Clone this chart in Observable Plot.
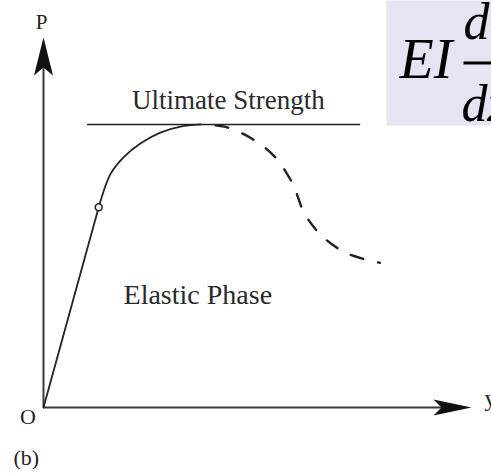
<!DOCTYPE html>
<html>
<head>
<meta charset="utf-8">
<script src="https://cdn.jsdelivr.net/npm/d3@7"></script>
<script src="https://cdn.jsdelivr.net/npm/@observablehq/plot@0.6"></script>
<style>
  html, body { margin: 0; padding: 0; background: #fff; }
  #chart { width: 491px; height: 476px; }
</style>
</head>
<body>
<div id="chart"></div>
<script>
// Load–deflection response of a member: linear elastic branch,
// hardening up to the ultimate strength, then softening (dashed).
// Deflection (horizontal) and load P (vertical) in relative units, 0–100.

const elasticX = [0, 12.9];
const elasticP = [0, 54.1];

const hardeningX = [12.9, 15.7, 18.7, 22.7, 27.3, 32.0, 36.7];
const hardeningP = [54.1, 63.2, 67.6, 71.4, 74.3, 75.9, 76.5];

const softeningX = [36.7, 42.3, 48.6, 54.0, 58.2, 61.0, 65.2, 71.0, 78.6];
const softeningP = [76.5, 75.9, 72.7, 67.8, 60.5, 52.4, 46.2, 41.6, 39.1];

// Ultimate strength level and the extent of its reference line
const ultimateP = 76.5;
const ultimateX = [10.3, 74.1];

// End of the elastic range (marked with a small circle)
const limitX = [12.9];
const limitP = [54.1];

const labels = ["Ultimate Strength", "Elastic Phase"];
const labelX = [20.7, 18.7];
const labelP = [80.8, 28.1];
const labelSize = [27, 28];

const axisNames = ["P", "y", "O", "(b)"];
const equation = ["EI", "d²y", "dx²"];

const toPoints = (xs, ps) => xs.map((x, i) => ({x, p: ps[i]}));

// Filled "stealth" arrowheads, tip at the symbol origin
const arrowUp = {
  draw(ctx) {
    ctx.moveTo(0, 0);
    ctx.lineTo(-9.5, 38);
    ctx.lineTo(0, 30);
    ctx.lineTo(9.5, 38);
    ctx.closePath();
  }
};
const arrowRight = {
  draw(ctx) {
    ctx.moveTo(0, 0);
    ctx.lineTo(-38, -8);
    ctx.lineTo(-30, 0);
    ctx.lineTo(-38, 8);
    ctx.closePath();
  }
};

const ink = "#222";
const axisInk = "#3a3a3a";
const serif = "Liberation Serif, Times New Roman, serif";

const chart = Plot.plot({
  width: 491,
  height: 476,
  margin: 0,
  style: {fontFamily: serif, background: "#fff", color: ink},
  x: {domain: [0, 100], range: [43, 471], axis: null},
  y: {domain: [0, 100], range: [407, 37], axis: null},
  marks: [
    // axes
    Plot.ruleX([0], {y1: 0, y2: 95, stroke: axisInk, strokeWidth: 2}),
    Plot.ruleY([0], {x1: 0, x2: 95, stroke: axisInk, strokeWidth: 2}),
    Plot.dot([{x: 0, p: 100}], {x: "x", y: "p", symbol: arrowUp, fill: "#111", stroke: null}),
    Plot.dot([{x: 100, p: 0}], {x: "x", y: "p", symbol: arrowRight, fill: "#111", stroke: null}),

    // ultimate strength level
    Plot.ruleY([ultimateP], {x1: ultimateX[0], x2: ultimateX[1], stroke: ink, strokeWidth: 1.6}),

    // response curve
    Plot.line(toPoints(elasticX, elasticP), {x: "x", y: "p", stroke: ink, strokeWidth: 1.8}),
    Plot.line(toPoints(hardeningX, hardeningP), {x: "x", y: "p", stroke: ink, strokeWidth: 1.8, curve: "catmull-rom"}),
    Plot.line(toPoints(softeningX, softeningP), {
      x: "x", y: "p", stroke: ink, strokeWidth: 2.4, curve: "catmull-rom",
      strokeDasharray: "13,15", strokeDashoffset: 13
    }),
    Plot.dot(toPoints(limitX, limitP), {x: "x", y: "p", r: 3.5, stroke: ink, strokeWidth: 1.5, fill: "#eee"}),

    // annotations
    Plot.text(labels, {
      x: (d, i) => labelX[i], y: (d, i) => labelP[i], text: d => d,
      fontSize: (d, i) => labelSize[i],
      textAnchor: "start", lineAnchor: "bottom", fill: "#2a2a2a"
    }),

    // axis names
    Plot.text([axisNames[0]], {x: () => 0, y: () => 100, text: d => d, dx: -2, dy: -9, lineAnchor: "bottom", fontSize: 21, fill: ink}),
    Plot.text([axisNames[1]], {x: () => 100, y: () => 0, text: d => d, dx: 13, dy: -2, textAnchor: "start", lineAnchor: "bottom", fontSize: 24, fill: ink}),
    Plot.text([axisNames[2]], {x: () => 0, y: () => 0, text: d => d, dx: -15.5, dy: 16, lineAnchor: "bottom", fontSize: 22, fill: ink}),
    Plot.text([axisNames[3]], {x: () => 0, y: () => 0, text: d => d, dx: -30, dy: 57, textAnchor: "start", lineAnchor: "bottom", fontSize: 22, fill: ink}),

    // equation panel in the top-right corner
    Plot.frame({fill: "#e4e4f2", stroke: null, insetLeft: 386, insetBottom: 351}),
    Plot.text([equation[0]], {frameAnchor: "top-left", dx: 399, dy: 77, text: d => d, textAnchor: "start", lineAnchor: "bottom", fontSize: 56, fontStyle: "italic", fontFamily: serif, fill: "#000"}),
    Plot.frame({fill: "#000", stroke: null, insetLeft: 463, insetTop: 61, insetBottom: 476 - 64}),
    Plot.text([equation[1]], {frameAnchor: "top-left", dx: 463, dy: 38, text: d => d, textAnchor: "start", lineAnchor: "bottom", fontSize: 52, fontStyle: "italic", fontFamily: serif, fill: "#000"}),
    Plot.text([equation[2]], {frameAnchor: "top-left", dx: 461, dy: 120, text: d => d, textAnchor: "start", lineAnchor: "bottom", fontSize: 52, fontStyle: "italic", fontFamily: serif, fill: "#000"})
  ]
});

document.getElementById("chart").append(chart);
</script>
</body>
</html>
